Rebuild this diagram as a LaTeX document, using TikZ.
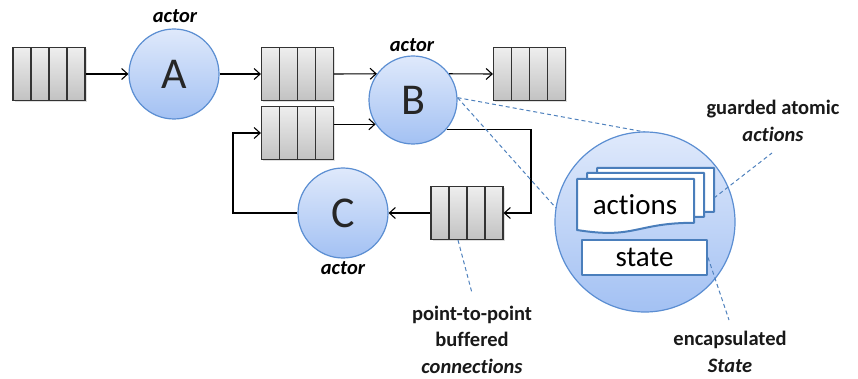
\documentclass[tikz,border=0pt]{standalone}
\usepackage{fontspec}
\setmainfont{Carlito}[Ligatures=NoCommon]
\usetikzlibrary{arrows.meta,shadows}

\definecolor{actorTop}{HTML}{DFE9FB}
\definecolor{actorBot}{HTML}{A3C1F3}
\definecolor{actorRim}{HTML}{5B8ED2}
\definecolor{calloutBlue}{HTML}{4F81BD}
\definecolor{docBlue}{HTML}{4A7EBB}
\definecolor{cellTop}{HTML}{EEEEEE}
\definecolor{cellBot}{HTML}{C2C2C2}

% document-shaped page with a wavy lower edge; #1,#2 = top-left corner
\newcommand\wavedoc[2]{%
  \draw[docpage] (#1,#2) -- ++(117,0) -- ++(0,43.8)
    .. controls ++(-58.5,0) and ++(58.5,9.4) .. ++(-117,7.2) -- cycle;}

\tikzset{
  actorcircle/.style={circle, minimum size=#1, inner sep=0pt, draw=actorRim,
    line width=1.2pt, top color=actorTop, bottom color=actorBot,
    font=\fontsize{44}{44}\selectfont, text=black!85},
  queue/.style={rectangle, minimum width=72pt, minimum height=53pt,
    draw=black!80, line width=1.2pt, top color=cellTop, bottom color=cellBot,
    drop shadow={opacity=0.25, shadow xshift=1.5pt, shadow yshift=-1.5pt},
    path picture={\foreach \k in {18pt,36pt,54pt}
      \draw[black!80, line width=1.2pt]
        ([xshift=\k]path picture bounding box.north west) --
        ([xshift=\k]path picture bounding box.south west);}},
  flow/.style={draw=black, line width=1.1pt,
    -{Straight Barb[length=6pt,width=11pt]}},
  callout/.style={draw=calloutBlue, line width=1pt, dash pattern=on 4pt off 3pt},
  note/.style={font=\fontsize{20.5}{26.5}\selectfont\bfseries, align=center,
    text=black!90, inner sep=0pt},
  actorlabel/.style={font=\fontsize{20.5}{22}\selectfont\bfseries\itshape,
    inner sep=0pt},
  docpage/.style={draw=docBlue, fill=white, line width=2pt, line join=round},
  inner/.style={font=\fontsize{29}{29}\selectfont, inner sep=0pt},
}

\begin{document}
\begin{tikzpicture}[x=1pt,y=-1pt]
\useasboundingbox (0,0) rectangle (858,379);

% queues
\node[queue] (q1) at (49,74) {};
\node[queue] (q2) at (297.5,74) {};
\node[queue] (q3) at (529.5,74) {};
\node[queue] (q4) at (297.5,133) {};
\node[queue] (q5) at (467,213) {};

% actors
\node[actorcircle=90pt] (A) at (174,74) {A};
\node[actorcircle=88pt] (B) at (413,100) {B};
\node[actorcircle=90pt] (C) at (343,213) {C};

\node[actorlabel] (lA) at (175,16) {actor};
\node[actorlabel] (lB) at (412,45) {actor};
\node[actorlabel] (lC) at (343,268) {actor};

% connections
\coordinate (bend) at (531,213);
\coordinate (back) at (233,213);
\draw[flow] (q1.east) -- (A.west);
\draw[flow] (A.east) -- (q2.west);
\draw[flow] (q2.east) -- (B.144);
\draw[flow] (B.36) -- (q3.west);
\draw[flow] (B.213 -| q4.east) -- (B.213);
\draw[flow] (B.-41) -| (bend) -- (q5.east);
\draw[flow] (q5.west) -- (C.east);
\draw[flow] (C.west) -- (back) |- (q4.west);

% zoomed-in actor
\draw[callout] (B.3) -- (645,132);
\draw[callout] (B.3) -- (556,208);
\node[actorcircle=180pt] (big) at (645,222) {};
\wavedoc{597}{168}
\wavedoc{587}{173}
\wavedoc{577}{179}
\node[inner] (actions) at (635,205) {actions};
\node[docpage, minimum width=125pt, minimum height=35pt, inner sep=0pt,
  font=\fontsize{29}{29}\selectfont] (state) at (644.5,257.5) {state};

% annotations
\node[note] (nG) at (773,121) {guarded atomic\\\textit{actions}};
\node[note] (nC) at (472,339.5) {point-to-point\\buffered\\\textit{connections}};
\node[note] (nS) at (730,352) {encapsulated\\\textit{State}};

\coordinate (gStart) at (714,198);
\coordinate (gEnd) at (772,153);
\coordinate (sEnd) at (729,320);
\coordinate (cEnd) at (472,293);
\draw[callout] (gStart) -- (gEnd);
\draw[callout] (state.east) -- (sEnd);
\draw[callout] ([xshift=-9pt]q5.south) -- (cEnd);
\end{tikzpicture}
\end{document}
